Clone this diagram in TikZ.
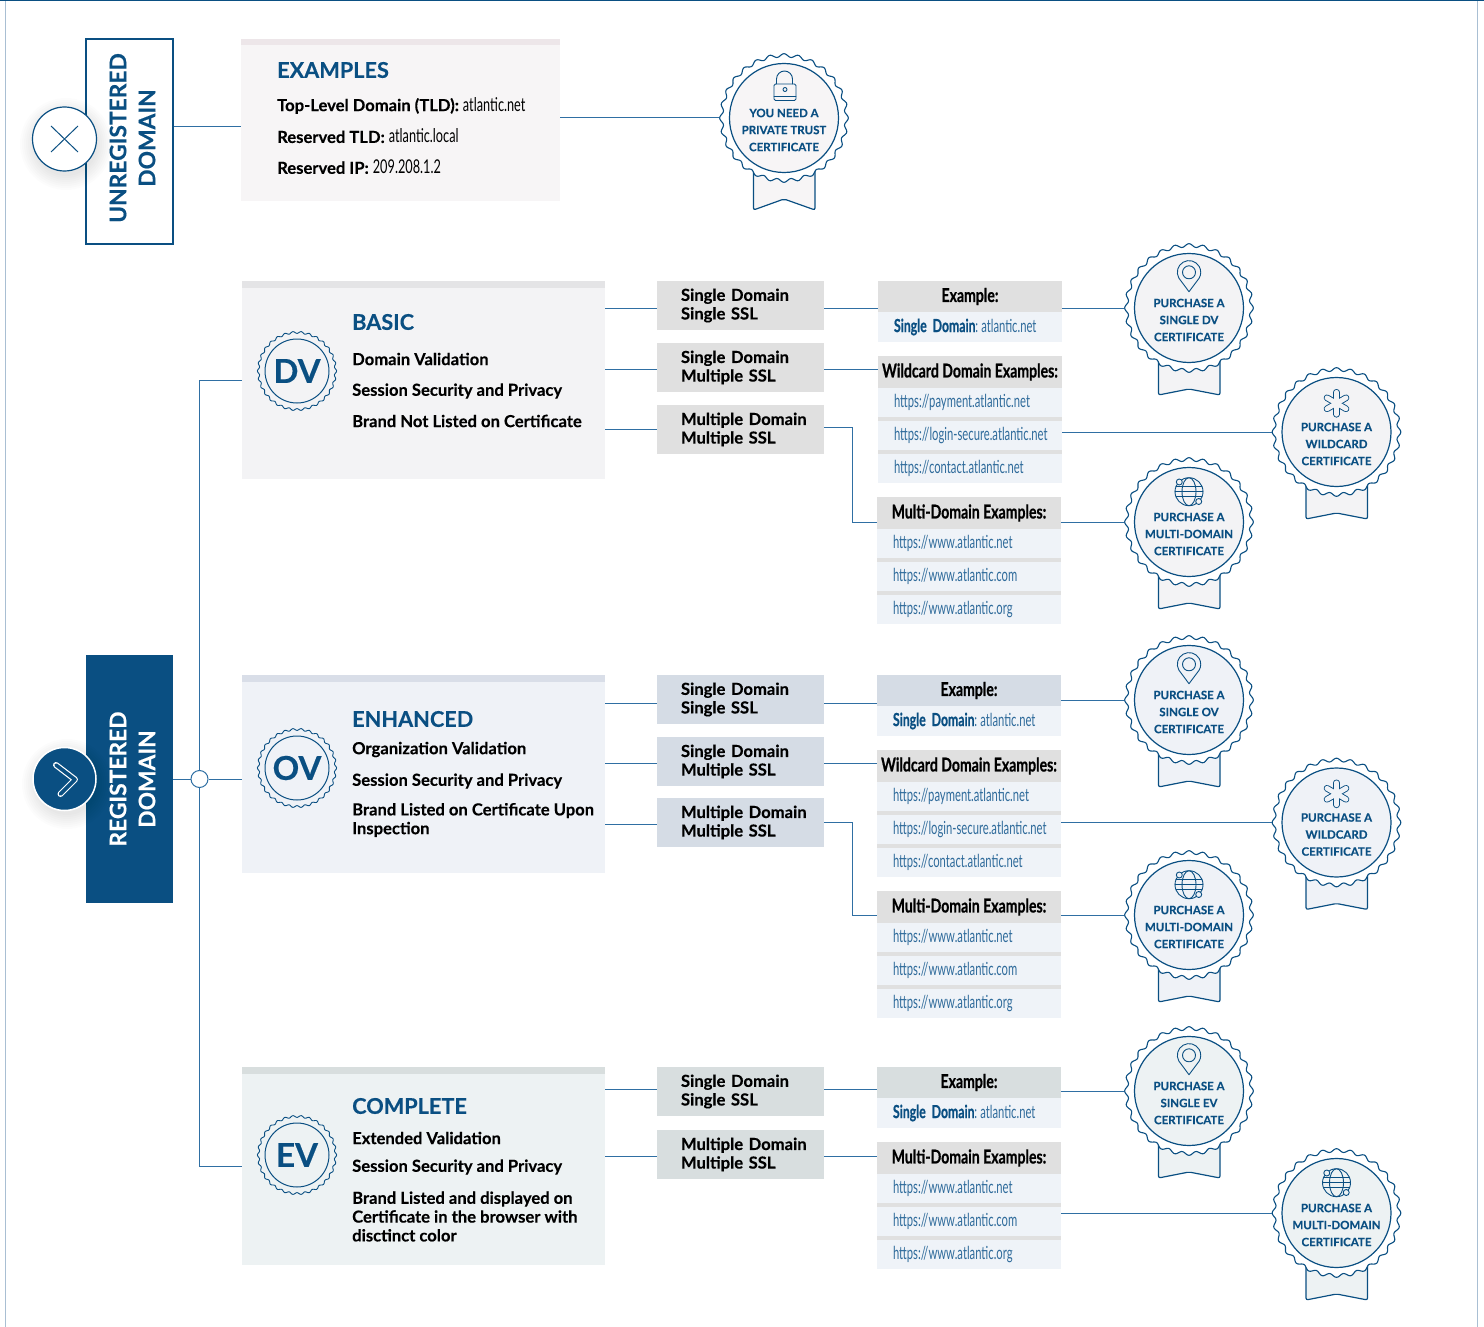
\documentclass[tikz,border=0pt]{standalone}
\usepackage{fontspec}
\setmainfont{Lato}[BoldFont={Lato Bold},BoldFeatures={FakeBold=0.3}]
\newfontfamily\condbold[FakeStretch=0.74,FakeBold=0.6]{Lato Bold}
\newfontfamily\condrow[FakeStretch=0.68,FakeBold=0.6]{Lato Bold}
\newfontfamily\condlight[FakeStretch=0.625]{Lato}
\newfontfamily\condplain[FakeStretch=0.67]{Lato}
\usetikzlibrary{positioning}

\definecolor{navy}{HTML}{0A4F82}
\definecolor{lineblue}{HTML}{2F6FA3}
\definecolor{edgeblue}{HTML}{A9BFD3}
\definecolor{urlblue}{HTML}{2F6B9B}
\definecolor{subgray}{HTML}{E0E0E0}
\definecolor{rowblue}{HTML}{EFF3F8}
\definecolor{exfill}{HTML}{F7F5F6}
\definecolor{exbar}{HTML}{EDE6E9}
\definecolor{dvfill}{HTML}{F3F3F5}
\definecolor{dvbar}{HTML}{E4E4E6}
\definecolor{ovfill}{HTML}{EFF2F7}
\definecolor{ovbar}{HTML}{D9DEE8}
\definecolor{ovhead}{HTML}{D5DCE5}
\definecolor{evfill}{HTML}{EDF2F3}
\definecolor{evbar}{HTML}{D8DEDE}
\definecolor{evhead}{HTML}{D8DEDF}

\tikzset{
    conn/.style={draw=lineblue,line width=1pt},
    tierbox/.style={rectangle,minimum width=363pt,minimum height=198pt,inner sep=0pt,fill=#1},
    tierbar/.style={rectangle,minimum width=363pt,minimum height=7pt,inner sep=0pt,fill=#1,anchor=north},
    tiertitle/.style={anchor=west,inner sep=0pt,text=navy,font=\fontsize{21.7}{22}\selectfont\bfseries},
    tierline/.style={anchor=west,inner sep=0pt,align=left,font=\fontsize{16.6}{18.8}\selectfont\bfseries},
    sidelabel/.style={rotate=90,align=center,inner sep=0pt,font=\fontsize{22.8}{29}\selectfont\bfseries},
    subbox/.style={rectangle,fill=#1,minimum height=49pt,text width=167pt,inner xsep=0pt,inner ysep=0pt,
        align=left,execute at begin node={\leftskip=24pt},font=\fontsize{16.6}{18.6}\selectfont\bfseries},
    subbox/.default=subgray,
    panelhead/.style={rectangle,fill=#1,minimum width=184pt,minimum height=32pt,inner sep=0pt,outer sep=0pt,
        font=\condbold\fontsize{19}{19}\selectfont},
    panelhead/.default=subgray,
    panelrow/.style={rectangle,fill=rowblue,minimum height=29pt,text width=184pt,inner xsep=0pt,inner ysep=0pt,outer sep=0pt,
        align=left,execute at begin node={\leftskip=16pt},text=urlblue,font=\condlight\fontsize{18}{18}\selectfont},
    panelsep/.style={rectangle,fill=#1,minimum width=184pt,minimum height=4pt,inner sep=0pt,outer sep=0pt},
    panelsep/.default=subgray,
    certouter/.style={circle,minimum size=129pt,inner sep=0pt},
    certinner/.style={circle,minimum size=109pt,inner sep=0pt,draw=navy,line width=1.2pt,fill=certbg},
    certtext/.style={align=center,inner sep=0pt,text=navy,font=\fontsize{11.5}{17}\selectfont\bfseries},
    emblem/.style={circle,minimum size=64pt,inner sep=0pt,draw=navy,line width=1pt,text=navy,
        font=\fontsize{33}{33}\selectfont\bfseries},
    icon/.style={draw=navy,line width=0.9pt,line join=round,line cap=round},
}

\newcommand{\ribbontip}{87}
% round seal with ribbon
\newcommand{\certbadge}[6]{
    \node[certouter] (#1) at (#2,#3) {};
    \colorlet{certbg}{#4}
    \begin{scope}[shift={(#1.center)}]
        \draw[draw=navy,line width=1.2pt,fill=certbg,rounded corners=2pt] (-30.5,40) -- (-30.5,\ribbontip) -- (0,81) -- (31,\ribbontip) -- (31,40);
        \draw[draw=navy,line width=1.1pt,fill=white] plot[domain=0:359,samples=360,smooth]
            ({(62.6+1.7*cos(28*\x))*cos(\x)},{(62.6+1.7*cos(28*\x))*sin(\x)}) -- cycle;
        \node[certinner] (#1in) at (0,0) {};
        #5
        \node[certtext] (#1txt) at (0,12) {#6};
    \end{scope}
}

\newcommand{\iconlock}{
    \draw[icon] (-7.5,-34) -- (-7.5,-39) arc[start angle=180,end angle=0,radius=8pt] -- (8.5,-34);
    \draw[icon,rounded corners=1.5pt] (-10,-34) rectangle (12,-17.5);
    \draw[icon] (-10,-21.5) -- (12,-21.5);
    \draw[icon] (1,-28.5) circle[radius=2pt];
}
\newcommand{\iconpin}{
    \draw[icon] (0,-16.3) -- (-10.1,-29.85) arc[start angle=210,end angle=-30,radius=11.7pt] -- cycle;
    \draw[icon] (0,-35.7) circle[radius=6.5pt];
}
\newcommand{\iconsnow}{
    \foreach \a in {30,90,150} {
        \draw[draw=navy,line width=6.6pt,line cap=round] ({-11*cos(\a)},{-28.7-11*sin(\a)}) -- ({11*cos(\a)},{-28.7+11*sin(\a)});
    }
    \foreach \a in {30,90,150} {
        \draw[draw=certbg,line width=4.8pt,line cap=round] ({-11*cos(\a)},{-28.7-11*sin(\a)}) -- ({11*cos(\a)},{-28.7+11*sin(\a)});
    }
}
\newcommand{\iconglobe}{
    \draw[icon] (0,-30.3) circle[radius=14pt];
    \draw[icon] (0,-30.3) ellipse[x radius=7pt,y radius=14pt];
    \draw[icon] (-14,-30.3) -- (14,-30.3);
    \draw[icon] (-13,-35.3) -- (13,-35.3);
    \draw[icon] (-13,-25.3) -- (13,-25.3);
    \draw[icon,fill=certbg] (-9.7,-40) circle[radius=3pt];
    \draw[icon,fill=certbg] (9.7,-20.5) circle[radius=3pt];
}

% header with three address rows
\newcommand{\urlpanel}[7]{
    \node[panelhead] (#1) at (#2,#3) {\raisebox{-2pt}{#4}};
    \node[panelrow,below=0pt of #1] (#1a) {#5};
    \node[panelsep,below=0pt of #1a] (#1s) {};
    \node[panelrow,below=0pt of #1s] (#1b) {\raisebox{1.5pt}{#6}};
    \node[panelsep,below=0pt of #1b] (#1t) {};
    \node[panelrow,below=0pt of #1t] (#1c) {\raisebox{3.5pt}{#7}};
}

\newcommand{\wavering}[2]{
    \draw[draw=navy,line width=0.9pt] plot[domain=0:359,samples=240,smooth]
        ({#1+(38.6+1*cos(30*\x))*cos(\x)},{#2+(38.6+1*cos(30*\x))*sin(\x)}) -- cycle;
}

\newcommand{\examplerow}{{\condrow\color{navy}Single Domain}:\hspace{3pt}atlantic.net}
\newcommand{\plainpart}[1]{{\condplain\mdseries\fontsize{19}{19}\selectfont #1}}

\begin{document}
\begin{tikzpicture}[x=1pt,y=-1pt]
    \useasboundingbox (0,0) rectangle (1484,1327);

    % page edge
    \draw[draw=edgeblue,line width=1pt] (5,1327) -- (5,0.7);
    \draw[draw=edgeblue,line width=1pt] (1477,1327) -- (1477,0.7);
    \draw[draw=navy,line width=1.3pt] (0,0.6) -- (1484,0.6);

    % unregistered
    \node[rectangle,draw=navy,line width=1.1pt,fill=white,minimum width=87pt,minimum height=205pt,inner sep=0pt] (unreg) at (129.5,141.5) {};
    \node[sidelabel,text=navy] (unreglabel) at (132.5,138) {UNREGISTERED\\DOMAIN};
    \foreach \r in {32,34,...,46} {
        \fill[black,opacity=0.012] (66,144) circle[radius=\r pt];
    }
    \node[circle,draw=navy,line width=1.2pt,fill=white,minimum size=64pt,inner sep=0pt] (unregmark) at (64.5,139) {};
    \draw[draw=navy,line width=1pt] (51,126) -- (78,152);
    \draw[draw=navy,line width=1pt] (78,126) -- (51,152);

    % examples
    \node[rectangle,fill=exfill,minimum width=319pt,minimum height=162pt,inner sep=0pt] (examples) at (400.5,120) {};
    \node[tierbar=exbar,minimum width=319pt,minimum height=6pt] (examplesbar) at (examples.north) {};
    \node[tiertitle] (examplestitle) at (277,70) {EXAMPLES};
    \node[tierline] (examplesa) at (277,105.5) {Top-Level Domain (TLD): \plainpart{atlantic.net}};
    \node[tierline] (examplesb) at (277,136) {Reserved TLD: \plainpart{atlantic.local}};
    \node[tierline] (examplesc) at (277,167) {Reserved IP: \plainpart{209.208.1.2}};
    \renewcommand{\ribbontip}{92}
    \certbadge{certprivate}{784}{118}{exfill}{\iconlock}{YOU NEED A\\PRIVATE TRUST\\CERTIFICATE}
    \renewcommand{\ribbontip}{87}
    \draw[conn] (unreg.east |- 0,127) -- (examples.west |- 0,127);
    \draw[conn] (examples.east |- certprivate.west) -- (certprivate.west);

    % registered
    \node[rectangle,fill=navy,minimum width=87pt,minimum height=248pt,inner sep=0pt] (reg) at (129.5,779) {};
    \node[sidelabel,text=white] (reglabel) at (132.5,779) {REGISTERED\\DOMAIN};
    \foreach \r in {31,33,...,45} {
        \fill[black,opacity=0.012] (67,784) circle[radius=\r pt];
    }
    \node[circle,draw=white,line width=1.5pt,fill=navy,minimum size=63pt,inner sep=0pt] (regmark) at (64.5,779) {};
    \draw[draw=white,line width=6pt,line cap=round,line join=round] (56,765) -- (75,779.5) -- (60.5,794);
    \draw[draw=navy,line width=3.6pt,line cap=round,line join=round] (56,765) -- (75,779.5) -- (60.5,794);
    \node[circle,draw=lineblue,line width=1pt,fill=white,minimum size=17pt,inner sep=0pt] (hub) at (199.5,779) {};

    % basic tier
    \node[tierbox=dvfill] (dvtier) at (423.5,380) {};
    \node[tierbar=dvbar] (dvtierbar) at (dvtier.north) {};
    \wavering{297}{371}
    \node[emblem] (dvmark) at (297,371) {DV};
    \node[tiertitle] (dvtitle) at (352,322) {BASIC};
    \node[tierline] (dvlinea) at (352,359) {Domain Validation};
    \node[tierline] (dvlineb) at (352,391) {Session Security and Privacy};
    \node[tierline] (dvlinec) at (352,421) {Brand Not Listed on Certificate};

    \node[subbox] (dvsuba) at (740.5,305.5) {Single Domain\\Single SSL};
    \node[subbox] (dvsubb) at (740.5,367.5) {Single Domain\\Multiple SSL};
    \node[subbox] (dvsubc) at (740.5,429.5) {Multiple Domain\\Multiple SSL};

    \node[panelhead,minimum height=31pt] (dvex) at (970,296.5) {\raisebox{-2pt}{Example:}};
    \node[panelrow,minimum height=30pt,below=0pt of dvex] (dvexa) {\examplerow};
    \urlpanel{dvwild}{970}{372}{Wildcard Domain Examples:}{https://payment.atlantic.net}{https://login-secure.atlantic.net}{https://contact.atlantic.net}
    \urlpanel{dvmulti}{969}{513}{Multi-Domain Examples:}{https://www.atlantic.net}{https://www.atlantic.com}{https://www.atlantic.org}

    \certbadge{certdv}{1189}{308}{dvfill}{\iconpin}{PURCHASE A\\SINGLE DV\\CERTIFICATE}
    \certbadge{certdvwild}{1336.5}{432}{dvfill}{\iconsnow}{PURCHASE A\\WILDCARD\\CERTIFICATE}
    \certbadge{certdvmulti}{1189}{522}{dvfill}{\iconglobe}{PURCHASE A\\MULTI-DOMAIN\\CERTIFICATE}

    \draw[conn] (hub.north) |- (dvtier.west);
    \draw[conn] ([yshift=-2.5pt]dvsuba.west -| dvtier.east) -- ([yshift=-2.5pt]dvsuba.west);
    \draw[conn] ([yshift=-1.5pt]dvsubb.west -| dvtier.east) -- ([yshift=-1.5pt]dvsubb.west);
    \draw[conn] (dvsubc.west -| dvtier.east) -- (dvsubc.west);
    \draw[conn] ([yshift=-2.5pt]dvsuba.east) -- ([yshift=-2.5pt]dvsuba.east -| dvex.west);
    \draw[conn] ([yshift=-1.5pt]dvsubb.east) -- ([yshift=-1.5pt]dvsubb.east -| dvwild.west);
    \draw[conn] ([yshift=2pt]dvsubc.east) -- ++(28,0) |- (dvmulti.west |- certdvmulti.west);
    \draw[conn] (dvex.east |- certdv.west) -- (certdv.west);
    \draw[conn] (dvwildb.east |- certdvwild.west) -- (certdvwild.west);
    \draw[conn] (dvmulti.east |- certdvmulti.west) -- (certdvmulti.west);

    % enhanced tier
    \node[tierbox=ovfill] (ovtier) at (423.5,774) {};
    \node[tierbar=ovbar] (ovtierbar) at (ovtier.north) {};
    \wavering{297}{768}
    \node[emblem] (ovmark) at (297,768) {OV};
    \node[tiertitle] (ovtitle) at (352,719) {ENHANCED};
    \node[tierline] (ovlinea) at (352,749.5) {Organization Validation};
    \node[tierline] (ovlineb) at (352,781) {Session Security and Privacy};
    \node[tierline] (ovlinec) at (352,820) {Brand Listed on Certificate Upon\\Inspection};

    \node[subbox=ovhead] (ovsuba) at (740.5,699.5) {Single Domain\\Single SSL};
    \node[subbox=ovhead] (ovsubb) at (740.5,761.5) {Single Domain\\Multiple SSL};
    \node[subbox=ovhead] (ovsubc) at (740.5,822.5) {Multiple Domain\\Multiple SSL};

    \node[panelhead=ovhead,minimum height=31pt] (ovex) at (969,690.5) {\raisebox{-2pt}{Example:}};
    \node[panelrow,minimum height=30pt,below=0pt of ovex] (ovexa) {\examplerow};
    \urlpanel{ovwild}{969}{766}{Wildcard Domain Examples:}{https://payment.atlantic.net}{https://login-secure.atlantic.net}{https://contact.atlantic.net}
    \urlpanel{ovmulti}{969}{907}{Multi-Domain Examples:}{https://www.atlantic.net}{https://www.atlantic.com}{https://www.atlantic.org}

    \certbadge{certov}{1189}{700}{ovfill}{\iconpin}{PURCHASE A\\SINGLE OV\\CERTIFICATE}
    \certbadge{certovwild}{1336.5}{822.5}{ovfill}{\iconsnow}{PURCHASE A\\WILDCARD\\CERTIFICATE}
    \certbadge{certovmulti}{1189}{915}{ovfill}{\iconglobe}{PURCHASE A\\MULTI-DOMAIN\\CERTIFICATE}

    \draw[conn] (reg.east) -- (hub.west);
    \draw[conn] (hub.east) -- (hub.east -| ovtier.west);
    \draw[conn] ([yshift=-3.5pt]ovsuba.west -| ovtier.east) -- ([yshift=-3.5pt]ovsuba.west);
    \draw[conn] ([yshift=-1.5pt]ovsubb.west -| ovtier.east) -- ([yshift=-1.5pt]ovsubb.west);
    \draw[conn] ([yshift=-1.5pt]ovsubc.west -| ovtier.east) -- ([yshift=-1.5pt]ovsubc.west);
    \draw[conn] ([yshift=-3.5pt]ovsuba.east) -- ([yshift=-3.5pt]ovsuba.east -| ovex.west);
    \draw[conn] ([yshift=-1.5pt]ovsubb.east) -- ([yshift=-1.5pt]ovsubb.east -| ovwild.west);
    \draw[conn] (ovsubc.east) -- ++(28,0) |- (ovmulti.west |- certovmulti.west);
    \draw[conn] (ovex.east |- certov.west) -- (certov.west);
    \draw[conn] (ovwildb.east |- certovwild.west) -- (certovwild.west);
    \draw[conn] (ovmulti.east |- certovmulti.west) -- (certovmulti.west);

    % complete tier
    \node[tierbox=evfill] (evtier) at (423.5,1166) {};
    \node[tierbar=evbar] (evtierbar) at (evtier.north) {};
    \wavering{297}{1155}
    \node[emblem] (evmark) at (297,1155) {EV};
    \node[tiertitle] (evtitle) at (352,1106) {COMPLETE};
    \node[tierline] (evlinea) at (352,1138) {Extended Validation};
    \node[tierline] (evlineb) at (352,1167) {Session Security and Privacy};
    \node[tierline] (evlinec) at (352,1216.5) {Brand Listed and displayed on\\Certificate in the browser with\\disctinct color};

    \node[subbox=evhead] (evsuba) at (740.5,1091.5) {Single Domain\\Single SSL};
    \node[subbox=evhead] (evsubb) at (740.5,1154.5) {Multiple Domain\\Multiple SSL};

    \node[panelhead=evhead,minimum height=31pt] (evex) at (969,1082.5) {\raisebox{-2pt}{Example:}};
    \node[panelrow,minimum height=30pt,below=0pt of evex] (evexa) {\examplerow};
    \urlpanel{evmulti}{969}{1158}{Multi-Domain Examples:}{https://www.atlantic.net}{https://www.atlantic.com}{https://www.atlantic.org}

    \certbadge{certev}{1189}{1091}{evfill}{\iconpin}{PURCHASE A\\SINGLE EV\\CERTIFICATE}
    \certbadge{certevmulti}{1336.5}{1213}{evfill}{\iconglobe}{PURCHASE A\\MULTI-DOMAIN\\CERTIFICATE}

    \draw[conn] (hub.south) |- (evtier.west);
    \draw[conn] ([yshift=2.5pt]evsuba.west -| evtier.east) -- ([yshift=2.5pt]evsuba.west);
    \draw[conn] ([yshift=-1.5pt]evsubb.west -| evtier.east) -- ([yshift=-1.5pt]evsubb.west);
    \draw[conn] ([yshift=2.5pt]evsuba.east) -- ([yshift=2.5pt]evsuba.east -| evex.west);
    \draw[conn] ([yshift=-1.5pt]evsubb.east) -- ([yshift=-1.5pt]evsubb.east -| evmulti.west);
    \draw[conn] (evex.east |- certev.west) -- (certev.west);
    \draw[conn] (evmultib.east |- certevmulti.west) -- (certevmulti.west);
\end{tikzpicture}
\end{document}
